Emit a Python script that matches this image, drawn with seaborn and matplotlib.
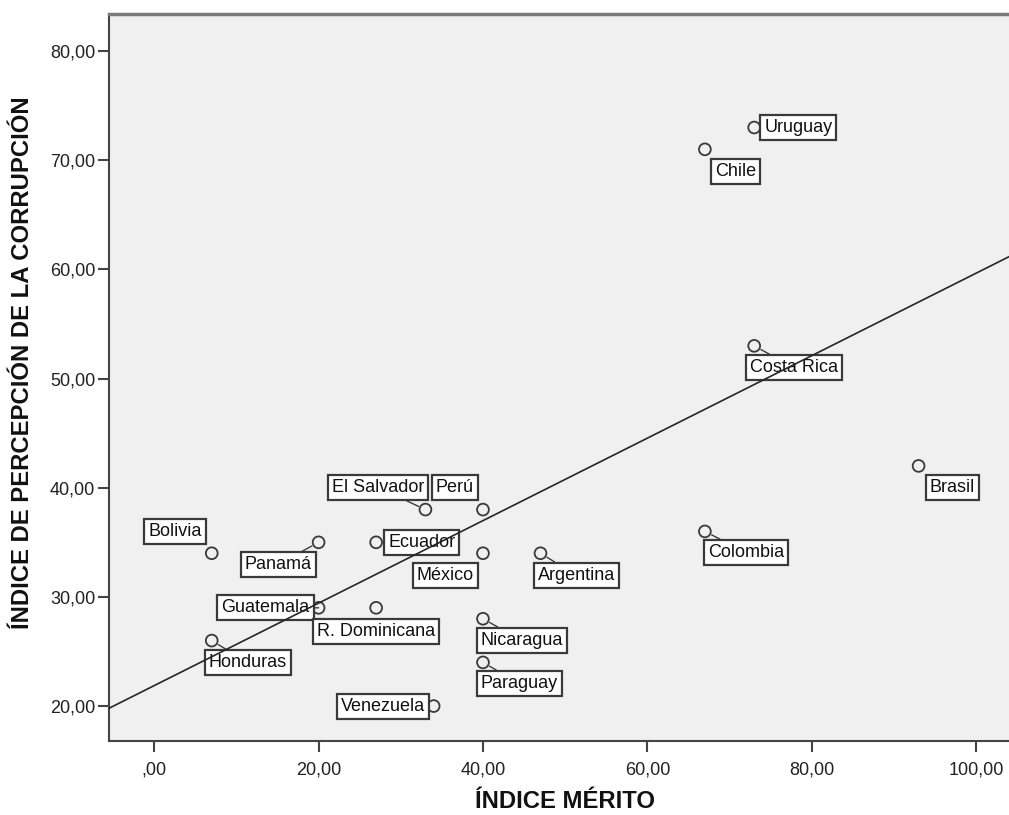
import numpy as np
import pandas as pd
import matplotlib
matplotlib.use("Agg")
import matplotlib.pyplot as plt
import seaborn as sns

# Country data: merit index vs corruption perception index
countries = ["Uruguay", "Chile", "Costa Rica", "Brasil", "Colombia",
             "El Salvador", "Perú", "México", "Argentina", "Ecuador",
             "Panamá", "Bolivia", "Guatemala", "R. Dominicana",
             "Nicaragua", "Paraguay", "Honduras", "Venezuela"]
merito = [73, 67, 73, 93, 67, 33, 40, 40, 47, 27, 20, 7, 20, 27, 40, 40, 7, 34]
corrupcion = [73, 71, 53, 42, 36, 38, 38, 34, 34, 35, 35, 34, 29, 29, 28, 24, 26, 20]

x_ticks = [0, 20, 40, 60, 80, 100]
y_ticks = [20, 30, 40, 50, 60, 70, 80]

x_title = "ÍNDICE MÉRITO"
y_title = "ÍNDICE DE PERCEPCIÓN DE LA CORRUPCIÓN"

# Label placement: offset in pixels from the point, alignment, leader line
label_layout = {
    "Uruguay": (10, 0, "left", False),
    "Chile": (10, -22, "left", False),
    "Costa Rica": (-4, -22, "left", True),
    "Brasil": (11, -22, "left", False),
    "Colombia": (3, -21, "left", True),
    "El Salvador": (-1, 22, "right", True),
    "Perú": (-9, 22, "right", False),
    "México": (-9, -22, "right", False),
    "Argentina": (-3, -22, "left", True),
    "Ecuador": (12, 0, "left", False),
    "Panamá": (-7, -22, "right", True),
    "Bolivia": (-10, 22, "right", False),
    "Guatemala": (-9, 0, "right", True),
    "R. Dominicana": (0, -24, "center", False),
    "Nicaragua": (-2, -22, "left", True),
    "Paraguay": (-2, -21, "left", True),
    "Honduras": (-3, -22, "left", True),
    "Venezuela": (-9, 0, "right", False),
}


def fmt(v):
    s = f"{v:.2f}".replace(".", ",")
    return s[1:] if s.startswith("0,") else s


df = pd.DataFrame({"pais": countries, "merito": merito, "corrupcion": corrupcion})

sns.set_theme(style="white")
plt.rcParams["font.family"] = ["Liberation Sans", "DejaVu Sans"]

fig = plt.figure(figsize=(10.09, 8.15), dpi=100)
ax = fig.add_axes([109 / 1009, 74 / 815, 900 / 1009, 727 / 815])
ax.set_facecolor("#f0f0f0")

ax.set_xlim(-5.5, 104.0)
ax.set_ylim(16.8, 83.4)

sns.scatterplot(data=df, x="merito", y="corrupcion", ax=ax, s=72,
                facecolor="none", edgecolor="#3a3a3a", linewidth=1.3, zorder=2)
sns.regplot(data=df, x="merito", y="corrupcion", ax=ax, scatter=False, ci=None,
            truncate=False, line_kws=dict(color="#262626", lw=1.2, zorder=5))

for name, xv, yv in zip(countries, merito, corrupcion):
    dx, dy, ha, leader = label_layout[name]
    arrow = (dict(arrowstyle="-", color="#3a3a3a", lw=1.0, shrinkA=0, shrinkB=5.5)
             if leader else None)
    ax.annotate(name, xy=(xv, yv), xytext=(dx, dy), textcoords="offset pixels",
                ha=ha, va="center", fontsize=13, color="#111111", zorder=4,
                bbox=dict(boxstyle="square,pad=0.22", fc="white", ec="#3a3a3a", lw=1.6),
                arrowprops=arrow)

ax.set_xticks(x_ticks)
ax.set_xticklabels([fmt(v) for v in x_ticks])
ax.set_yticks(y_ticks)
ax.set_yticklabels([fmt(v) for v in y_ticks])
ax.tick_params(axis="both", which="major", bottom=True, left=True,
               direction="out", length=8, width=1.5, color="#444444",
               labelsize=13, labelcolor="#222222")
ax.tick_params(axis="x", pad=7)
ax.tick_params(axis="y", pad=2)

for side in ("left", "bottom"):
    ax.spines[side].set_color("#444444")
    ax.spines[side].set_linewidth(1.5)
ax.spines["top"].set_color("#7a7a7a")
ax.spines["top"].set_linewidth(2.5)
ax.spines["right"].set_visible(False)

ax.set_xlabel("")
ax.set_ylabel("")
fig.text(565 / 1009, 1 - 802 / 815, x_title, ha="center", va="center",
         fontsize=17.2, fontweight="bold", color="#111111")
fig.text(23 / 1009, 1 - 363 / 815, y_title, ha="center", va="center",
         rotation=90, fontsize=17.2, fontweight="bold", color="#111111")

fig.savefig("out.png", dpi=100, facecolor="white")
